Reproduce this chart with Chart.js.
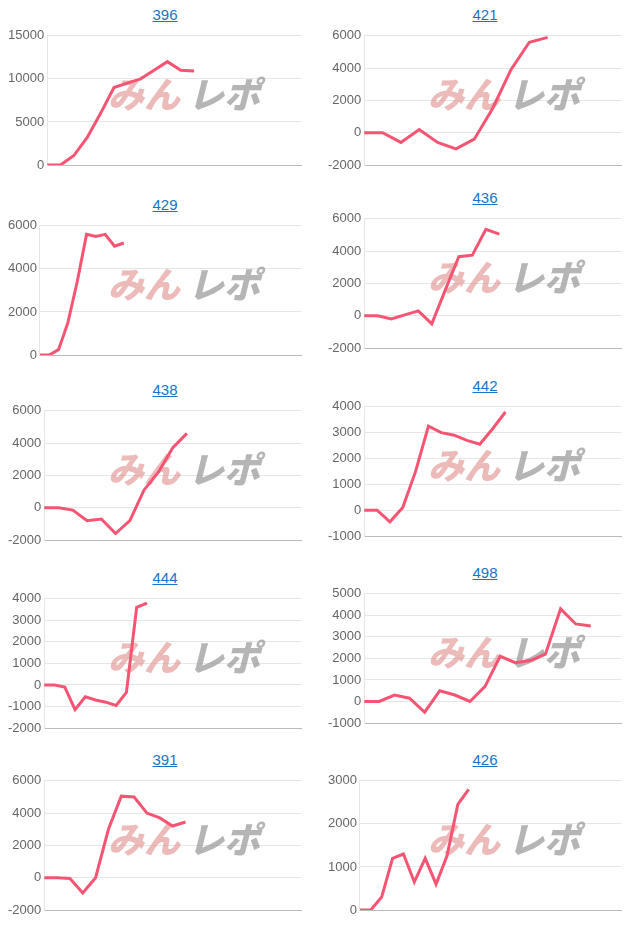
<!DOCTYPE html>
<html>
<head>
<meta charset="utf-8">
<script src="https://cdn.jsdelivr.net/npm/chart.js@4"></script>
<style>
  body { margin: 0; background: #fff; font-family: "Liberation Sans", Arial, sans-serif; }
  .panel { position: absolute; width: 300px; }
  .panel a { display: block; text-align: center; color: #1a73c8; text-decoration: underline; font-size: 15px; height: 20px; line-height: 20px; padding-left: 20px; }
  .panel .box { position: relative; width: 300px; height: 152px; }
</style>
</head>
<body>
<script>
// panel titles
const titles = ["396", "421", "429", "436", "438", "442", "444", "498", "391", "426"];
// number of x slots per panel
const slots = [20, 15, 29, 20, 19, 21, 26, 18, 21, 25];
// series values
const v396 = [0, 0, 1100, 3200, 6000, 9000, 9500, 10000, 11000, 12000, 11000, 10900];
const v421 = [0, 0, -600, 200, -600, -1000, -400, 1500, 3900, 5600, 5900];
const v429 = [0, 0, 250, 1500, 3400, 5600, 5500, 5600, 5050, 5200];
const v436 = [0, 0, -200, 50, 300, -500, 1600, 3650, 3750, 5350, 5050];
const v438 = [0, 0, -150, -800, -700, -1600, -800, 1100, 2200, 3700, 4600];
const v442 = [0, 0, -450, 100, 1500, 3250, 3000, 2900, 2700, 2550, 3150, 3800];
const v444 = [0, 0, -100, -1150, -550, -700, -800, -950, -350, 3600, 3800];
const v498 = [0, 0, 300, 150, -500, 500, 300, 0, 700, 2100, 1800, 1900, 2200, 4300, 3600, 3500];
const v391 = [0, 0, -50, -950, 0, 3000, 5050, 5000, 4000, 3700, 3200, 3450];
const v426 = [0, 0, 300, 1200, 1300, 650, 1200, 600, 1250, 2450, 2800];
const series = [v396, v421, v429, v436, v438, v442, v444, v498, v391, v426];
// y axis ranges
const yMin = [0, -2000, 0, -2000, -2000, -1000, -2000, -1000, -2000, 0];
const yMax = [15000, 6000, 6000, 6000, 6000, 4000, 4000, 5000, 6000, 3000];
const yStep = [5000, 2000, 2000, 2000, 2000, 1000, 1000, 1000, 2000, 1000];

const pos = [[5, 5], [325, 5], [5, 195], [325, 188], [5, 380], [325, 376], [5, 568], [325, 563], [5, 750], [325, 750]];

const watermark = {
  id: "watermark",
  beforeDatasetsDraw(chart) {
    const a = chart.chartArea, ctx = chart.ctx;
    const cx = 183, cy = (a.top + a.bottom) / 2 - 6;
    ctx.save();
    ctx.font = "italic 900 36px 'Noto Sans CJK JP'";
    ctx.textBaseline = "middle";
    ctx.fillStyle = "rgba(225,140,140,0.6)";
    ctx.fillText("みん", cx - 80, cy);
    ctx.fillStyle = "rgba(150,150,150,0.7)";
    ctx.fillText("レポ", cx, cy);
    ctx.restore();
  }
};

titles.forEach((t, i) => {
  const p = document.createElement("div");
  p.className = "panel";
  p.style.left = pos[i][0] + "px";
  p.style.top = pos[i][1] + "px";
  p.innerHTML = '<a href="#">' + t + '</a><div class="box"><canvas></canvas></div>';
  document.body.appendChild(p);
  const labels = Array.from({ length: slots[i] }, (_, k) => k + 1);
  new Chart(p.querySelector("canvas"), {
    type: "line",
    data: {
      labels: labels,
      datasets: [{
        data: series[i],
        borderColor: "rgb(245,85,115)",
        borderWidth: 3,
        pointRadius: 0,
        tension: 0,
        fill: false
      }]
    },
    options: {
      responsive: true,
      maintainAspectRatio: false,
      animation: false,
      layout: { padding: { top: 6, right: 4, bottom: 4 } },
      plugins: { legend: { display: false }, tooltip: { enabled: false } },
      scales: {
        x: {
          ticks: { display: false },
          grid: { display: false },
          border: { color: "#bbb" }
        },
        y: {
          min: yMin[i],
          max: yMax[i],
          ticks: { stepSize: yStep[i], color: "#666", font: { size: 13 }, callback: v => String(v) },
          grid: { color: "#e6e6e6", drawTicks: false },
          border: { color: "#e6e6e6" }
        }
      }
    },
    plugins: [watermark]
  });
});
</script>
</body>
</html>
